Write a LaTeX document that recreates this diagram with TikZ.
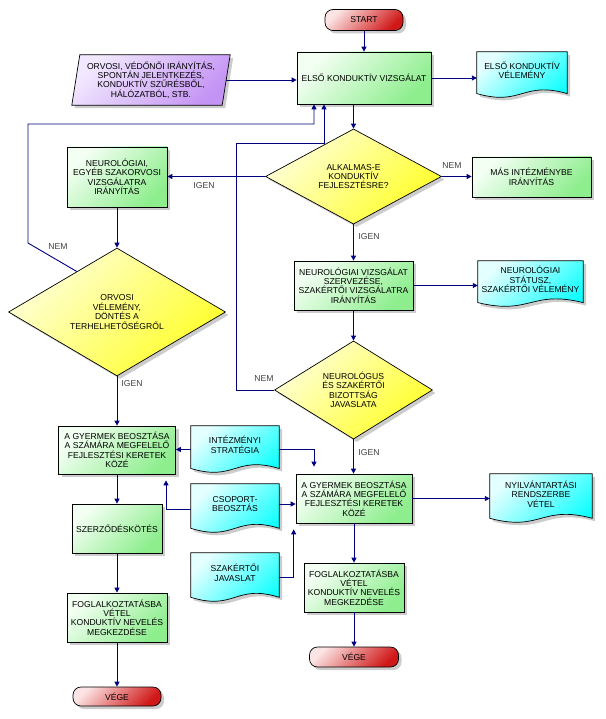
\documentclass[tikz,border=0pt]{standalone}
\usepackage{fontspec}
\setmainfont{Liberation Sans}
\usetikzlibrary{shapes.geometric,arrows.meta,calc,shadows}
\definecolor{navy}{HTML}{000080}
\definecolor{grnL}{HTML}{F4FFF4}
\definecolor{grnD}{HTML}{8EEE8E}
\definecolor{yelL}{HTML}{FFFFD8}
\definecolor{yelD}{HTML}{FFFF28}
\definecolor{cyaL}{HTML}{E4FFFF}
\definecolor{cyaD}{HTML}{10FFFF}
\definecolor{purL}{HTML}{F2E8FF}
\definecolor{purD}{HTML}{C494F4}
\definecolor{redL}{HTML}{FCE4E4}
\definecolor{redD}{HTML}{D01818}
\newcommand\fsz{\fontsize{8.6}{9.4}\selectfont}
\newcommand\docshape[6]{%
  \node[docbox,minimum width=#4,minimum height=#5] (#1) at (#2,#3) {};
  \path[docfill] (#1.north west) -- (#1.north east) -- ($(#1.south east)+(0,{-0.1*#5})$)
    .. controls ($(#1.south east)+({-0.5*#4},{-0.38*#5})$) and ($(#1.south east)+({-0.5*#4},{0.18*#5})$) .. ($(#1.south west)+(0,{-0.1*#5})$) -- cycle;
  \node[txt] (#1t) at ($(#1.center)+(0,-4.5)$) {#6};
}
\begin{document}
\begin{tikzpicture}[x=1pt,y=-1pt,
  shd/.style={drop shadow={shadow xshift=3pt,shadow yshift=-3pt,opacity=0.2,fill=black}},
  base/.style={draw=black,line width=0.7pt,font=\fsz,align=center,text=black,inner sep=1pt},
  proc/.style={base,rectangle,shd,top color=grnL,bottom color=grnD,shading angle=45},
  dec/.style={base,diamond,shd,inner sep=0pt,top color=yelL,bottom color=yelD,shading angle=45},
  term/.style={base,rectangle,rounded corners=8pt,shd,top color=redL,bottom color=redD,shading angle=45},
  docbox/.style={rectangle,inner sep=0pt,draw=none},
  docfill/.style={draw=black,line width=0.7pt,shd,top color=cyaL,bottom color=cyaD,shading angle=45},
  purfill/.style={draw=black,line width=0.7pt,shd,top color=purL,bottom color=purD,shading angle=45},
  txt/.style={font=\fsz,align=center,text=black,inner sep=0pt},
  lbl/.style={font=\fsz,text=black!75,inner sep=0pt},
  arr/.style={draw=navy,line width=0.9pt,-{Triangle[length=5pt,width=5pt]}}
]
\useasboundingbox (0,0) rectangle (605,719);

% top
\node[term,minimum width=78,minimum height=21] (start) at (364,20) {START};
\node[proc,minimum width=134,minimum height=52] (b1) at (364,78) {ELSŐ KONDUKTÍV VIZSGÁLAT};
\node[docbox,minimum width=150,minimum height=50] (inp) at (151,80) {};
\path[purfill] ($(inp.south west)+(-4,0)$) -- ($(inp.south east)+(-4,0)$) -- ($(inp.north east)+(4,0)$) -- ($(inp.north west)+(4,0)$) -- cycle;
\node[txt] (inpt) at (inp.center) {ORVOSI, VÉDŐNŐI IRÁNYÍTÁS,\\SPONTÁN JELENTKEZÉS,\\KONDUKTÍV SZŰRÉSBŐL,\\HÁLÓZATBÓL, STB.};
\docshape{doc1}{522}{75}{90}{46}{ELSŐ KONDUKTÍV\\VÉLEMÉNY}

% decision 1 row
\node[dec,minimum width=176,minimum height=79] (d1) at (353.5,176.5) {ALKALMAS-E\\KONDUKTÍV\\FEJLESZTÉSRE?};
\node[proc,minimum width=100,minimum height=60] (b2) at (117,177) {NEUROLÓGIAI,\\EGYÉB SZAKORVOSI\\VIZSGÁLATRA\\IRÁNYÍTÁS};
\node[proc,minimum width=119,minimum height=40] (b3) at (531.5,177) {MÁS INTÉZMÉNYBE\\IRÁNYÍTÁS};

% middle
\node[proc,minimum width=119,minimum height=49] (b4) at (353.5,285.5) {NEUROLÓGIAI VIZSGÁLAT\\SZERVEZÉSE,\\SZAKÉRTŐI VIZSGÁLATRA\\IRÁNYÍTÁS};
\docshape{doc2}{530.5}{284}{105}{46}{NEUROLÓGIAI\\STÁTUSZ,\\SZAKÉRTŐI VÉLEMÉNY}
\node[dec,minimum width=217,minimum height=100] (d2) at (117,312) {ORVOSI\\VÉLEMÉNY,\\DÖNTÉS A\\TERHELHETŐSÉGRŐL};
\node[dec,minimum width=158,minimum height=96] (d3) at (353.5,390) {NEUROLÓGUS\\ÉS SZAKÉRTŐI\\BIZOTTSÁG\\JAVASLATA};

% lower
\node[proc,minimum width=117,minimum height=48] (b5) at (117,450) {A GYERMEK BEOSZTÁSA\\A SZÁMÁRA MEGFELELŐ\\FEJLESZTÉSI KERETEK\\KÖZÉ};
\node[proc,minimum width=116,minimum height=49] (b6) at (354,498.5) {A GYERMEK BEOSZTÁSA\\A SZÁMÁRA MEGFELELŐ\\FEJLESZTÉSI KERETEK\\KÖZÉ};
\docshape{doc3}{235}{449.5}{88}{47}{INTÉZMÉNYI\\STRATÉGIA}
\docshape{doc4}{235}{508.5}{88}{49}{CSOPORT-\\BEOSZTÁS}
\docshape{doc5}{541}{498.5}{102}{49}{NYILVÁNTARTÁSI\\RENDSZERBE\\VÉTEL}
\docshape{doc6}{235}{577.5}{88}{49}{SZAKÉRTŐI\\JAVASLAT}
\node[proc,minimum width=90,minimum height=49] (b7) at (117,528.5) {SZERZŐDÉSKÖTÉS};
\node[proc,minimum width=100,minimum height=49] (b8) at (117,617.5) {FOGLALKOZTATÁSBA\\VÉTEL\\KONDUKTÍV NEVELÉS\\MEGKEZDÉSE};
\node[proc,minimum width=100,minimum height=49] (b9) at (354,587.5) {FOGLALKOZTATÁSBA\\VÉTEL\\KONDUKTÍV NEVELÉS\\MEGKEZDÉSE};
\node[term,minimum width=88,minimum height=19] (vege1) at (117,696.5) {VÉGE};
\node[term,minimum width=89,minimum height=20] (vege2) at (354,657) {VÉGE};

% connectors
\draw[arr] (start.south) -- (b1.north);
\draw[arr] (inp.east) -- (inp.east -| b1.west);
\draw[arr] (b1.east) -- (b1.east -| doc1.west);
\draw[arr] (b1.south -| d1.north) -- (d1.north);
\draw[arr] (d1.west) -- (d1.west -| b2.east);
\draw[arr] (d1.east) -- (d1.east -| b3.west);
\draw[arr] (d1.south) -- (d1.south |- b4.north);
\draw[arr] (b4.east) -- (b4.east -| doc2.west);
\draw[arr] (b4.south) -- (b4.south |- d3.north);
\draw[arr] (b2.south) -- (d2.north);
\draw[arr] (d2.south) -- (b5.north);
\draw[arr] (d3.south) -- (d3.south |- b6.north);
\draw[arr] (b5.south) -- (b7.north);
\draw[arr] (b7.south) -- (b8.north);
\draw[arr] (b8.south) -- (vege1.north);
\draw[arr] (b6.south) -- (b6.south |- b9.north);
\draw[arr] (b9.south) -- (vege2.north);
\draw[arr] (b6.east) -- (b6.east -| doc5.west);
\draw[arr] (doc3.west) -- (doc3.west -| b5.east);
\coordinate (p16) at ($(b6.north)+(-40,-7)$);
\draw[arr] (doc3.east) -| (p16);
\coordinate (p17a) at ($(doc4.west)+(0,0.5)$);
\coordinate (p17) at ($(b5.south)+(49,6)$);
\draw[arr] (p17a) -| (p17);
\coordinate (p18) at ($(doc4.east)+(0,-4.5)$);
\draw[arr] (p18) -- (p18 -| b6.west);
\coordinate (p25) at ($(b6.south west)+(-2,6)$);
\draw[arr] (doc6.east) -| (p25);

% feedback loops
\coordinate (fa) at (236,143);
\coordinate (b1s2) at ($(b1.south)+(-40,0)$);
\draw[arr] (d3.west) -| (fa) -| (b1s2);
\coordinate (d2p) at ($(d2.north)!0.37!(d2.west)$);
\coordinate (fb) at (28,243);
\coordinate (fc) at (28,124);
\coordinate (b1s1) at ($(b1.south)+(-50,0)$);
\draw[arr] (d2p) -- (fb) -- (fc) -| (b1s1);

% labels
\node[lbl] (l1) at (204,186) {IGEN};
\node[lbl] (l2) at (452,166) {NEM};
\node[lbl] (l3) at (369,237) {IGEN};
\node[lbl] (l4) at (58,247) {NEM};
\node[lbl] (l5) at (132,384) {IGEN};
\node[lbl] (l6) at (264,379) {NEM};
\node[lbl] (l7) at (369,453) {IGEN};
\end{tikzpicture}
\end{document}
